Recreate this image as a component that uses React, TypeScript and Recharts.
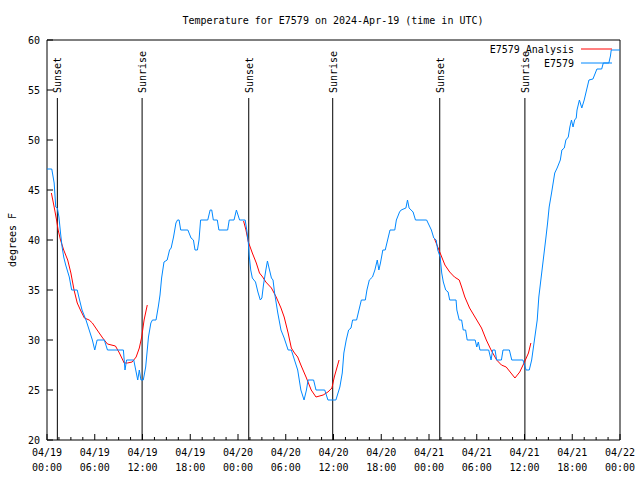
import React from 'react';
import {LineChart, Line, XAxis, YAxis, ReferenceLine, ReferenceArea} from 'recharts';

// observed station temps (hours since 04/19 00:00 UTC, deg F)
const obsHours = [
    0.0, 0.6, 0.9, 1.1, 1.3, 1.5, 1.7, 1.9, 2.1, 2.35, 2.8, 3.1, 3.8, 4.0, 4.4, 4.9, 5.3, 5.7, 6.0, 6.3,
    7.2, 7.6, 9.6, 9.8, 10.0, 10.9, 11.2, 11.4, 11.6, 11.8, 12.1, 12.4, 12.75, 13.05, 13.25, 13.7, 14.0, 14.2, 14.4, 14.7,
    15.1, 15.4, 15.6, 15.9, 16.2, 16.4, 16.6, 16.8, 17.7, 18.1, 18.4, 18.6, 18.9, 19.1, 19.3, 20.2, 20.5, 20.7, 20.9, 21.4,
    21.6, 22.7, 22.9, 23.5, 23.8, 24.0, 24.2, 24.9, 25.1, 25.3, 25.4, 25.6, 25.8, 26.2, 26.5, 26.8, 27.0, 27.2, 27.5, 27.7,
    27.9, 28.2, 28.4, 28.6, 29.0, 29.4, 29.8, 30.3, 30.7, 31.1, 31.5, 31.9, 32.3, 32.6, 32.8, 33.5, 33.8, 34.9, 35.3, 36.3,
    36.8, 37.1, 37.3, 37.6, 37.9, 38.2, 38.4, 38.9, 39.2, 39.5, 40.0, 40.2, 40.5, 40.9, 41.2, 41.5, 41.7, 41.9, 42.2, 42.5,
    42.8, 43.1, 43.7, 43.9, 44.3, 44.5, 45.1, 45.3, 45.5, 46.0, 46.3, 47.7, 48.0, 48.3, 48.6, 48.9, 49.1, 49.4, 49.6, 49.8,
    50.1, 50.4, 50.6, 51.4, 51.5, 51.8, 52.1, 52.3, 52.6, 52.8, 53.8, 54.0, 54.2, 54.4, 55.5, 55.8, 56.0, 56.3, 56.5, 57.1,
    57.3, 58.1, 58.4, 59.8, 60.2, 60.6, 60.9, 61.3, 61.6, 61.8, 62.1, 62.4, 62.7, 62.9, 63.1, 63.4, 63.6, 63.8, 64.1, 64.5,
    64.7, 65.0, 65.2, 65.5, 65.7, 65.9, 66.1, 66.3, 66.5, 66.6, 66.9, 67.2, 67.5, 67.8, 68.1, 68.6, 68.9, 69.1, 69.7, 69.9,
    70.6, 70.8, 70.9, 72.0,
];
const obsTemps = [
    47.1, 47.1, 45.7, 43.3, 43.2, 42.3, 40.7, 39.3, 38.3, 37.5, 36.3, 35, 35, 34.3, 33, 32, 31, 30, 29, 30,
    30, 29, 29, 27, 28, 28, 26.8, 26, 27, 26, 26, 27.3, 30.3, 31.7, 32, 32, 33.4, 34.5, 36.2, 37.8,
    38, 39, 39.2, 40.3, 41.7, 42, 42, 41, 41, 40.2, 40, 39, 39, 40, 42, 42, 43, 43, 42, 42,
    41, 41, 42, 42, 43, 42.5, 42, 42, 41, 39.7, 38.5, 37, 36.2, 35.8, 34.8, 34, 34.2, 35.5, 37, 37.9,
    37.2, 36.2, 36, 34.7, 32.7, 31, 30.2, 29, 29, 28, 27, 25, 24, 25, 26, 26, 25, 25, 24, 24,
    25.3, 26.7, 28.7, 30, 31, 31.2, 32, 32, 33, 34, 34, 35, 36, 36.3, 37, 38, 37, 37.7, 39, 39,
    40, 41, 41, 42, 42.8, 43, 43.2, 44, 43.2, 42.8, 42, 42, 41.5, 41, 40.2, 40, 39, 38.3, 36.7, 35.8,
    35, 34.8, 34, 34, 33, 32, 32, 31, 31, 30, 30, 29.3, 29.8, 29, 29, 28, 29, 29, 28, 28,
    29, 29, 28, 28, 27, 27, 28, 30.3, 32, 34.3, 36.3, 38.3, 40.3, 41.7, 43.3, 44.7, 45.7, 46.7, 47.2, 48,
    49, 49.2, 50, 50.3, 51.3, 52, 51.3, 52, 52.2, 53, 54, 53.2, 54, 55, 56, 56.1, 56.7, 57.1, 57.1, 57.7,
    57.7, 58.4, 59, 59,
];

// analysis series, null = gap during the day
const anaHours = [
    0.55, 0.9, 1.2, 1.4, 1.7, 2.1, 2.6, 3.0, 3.4, 3.8, 4.2, 4.7, 5.3, 5.7, 6.3, 7.0, 7.6, 8.6, 9.1, 9.7,
    10.1, 10.7, 11.2, 11.6, 11.9, 12.2, 12.6,
    18,
    24.7, 25.0, 25.3, 25.8, 26.3, 26.7, 27.1, 27.5, 28.2, 28.8, 29.4, 29.8, 30.3, 30.7, 31.1, 31.5, 31.9, 32.6, 33.2, 33.8,
    34.7, 35.3, 35.8, 36.1, 36.7,
    42,
    48.7, 49.1, 49.6, 50.0, 50.6, 51.2, 51.8, 52.1, 52.5, 53.1, 54.0, 54.6, 55.2, 55.8, 56.5, 57.1, 57.7, 58.2, 58.8, 59.4,
    60.0, 60.5, 60.8,
];
const anaTemps = [
    44.7, 43.3, 42, 41, 40, 39, 38, 36.7, 35, 33.7, 33, 32.2, 32, 31.7, 31, 30.2, 29.6, 29.4, 28.7, 27.7,
    27.7, 27.8, 28.3, 29.2, 30.3, 32, 33.5,
    null,
    41.9, 41, 39.8, 38.7, 37.7, 36.7, 36.3, 35.8, 35.2, 34.3, 33.2, 32.3, 30.7, 29.2, 28.7, 28.3, 27.5, 26.2, 25, 24.3,
    24.5, 24.8, 25.2, 26.3, 28,
    null,
    40.1, 39.3, 38.3, 37.5, 36.8, 36.3, 36, 35.3, 34.3, 33.2, 32, 31.2, 30, 29, 28, 27.5, 27.3, 26.8, 26.2, 26.8,
    27.8, 28.7, 29.7,
];

const sunHours = [1.3, 11.95, 25.35, 35.9, 49.35, 60.05];
const sunLabels = ['Sunset', 'Sunrise', 'Sunset', 'Sunrise', 'Sunset', 'Sunrise'];

const xTicks = [0, 6, 12, 18, 24, 30, 36, 42, 48, 54, 60, 66, 72];
const xTickDays = ['04/19', '04/19', '04/19', '04/19', '04/20', '04/20', '04/20', '04/20', '04/21', '04/21', '04/21', '04/21', '04/22'];
const xTickTimes = ['00:00', '06:00', '12:00', '18:00', '00:00', '06:00', '12:00', '18:00', '00:00', '06:00', '12:00', '18:00', '00:00'];
const yTicks = [20, 25, 30, 35, 40, 45, 50, 55, 60];

const FONT = '"DejaVu Sans Mono", "Liberation Mono", monospace';
const RED = '#ff0000';
const BLUE = '#0088ff';
const SUN_LINE_TOP = 54.2;

// major ticks every 6h plus minor ones every 1.5h
const allXTicks: number[] = [];
xTicks.forEach((t, i) => {
    allXTicks.push(t);
    if (i < xTicks.length - 1) {
        allXTicks.push(t + 1.5, t + 3, t + 4.5);
    }
});

const obsData = obsHours.map((h, i) => ({h, t: obsTemps[i]}));
const anaData = anaHours.map((h, i) => ({h, t: anaTemps[i]}));

const BottomTick = (props: any) => {
    const {x, y, payload} = props;
    const i = xTicks.indexOf(payload.value);
    const major = i >= 0;
    return (
        <g>
            <line x1={x} y1={y} x2={x} y2={y - (major ? 6 : 3)} stroke="#000"/>
            {major && <text x={x} y={y + 16} textAnchor="middle" fontSize={10} fontFamily={FONT} fill="#000">{xTickDays[i]}</text>}
            {major && <text x={x} y={y + 31} textAnchor="middle" fontSize={10} fontFamily={FONT} fill="#000">{xTickTimes[i]}</text>}
        </g>
    );
};

const TopTick = (props: any) => {
    const {x, y, payload} = props;
    const major = xTicks.indexOf(payload.value) >= 0;
    return <line x1={x} y1={y} x2={x} y2={y + (major ? 6 : 3)} stroke="#000"/>;
};

const LeftTick = (props: any) => {
    const {x, y, payload} = props;
    return (
        <g>
            <line x1={x} y1={y} x2={x + 6} y2={y} stroke="#000"/>
            <text x={x - 7} y={y + 4} textAnchor="end" fontSize={10} fontFamily={FONT} fill="#000">{payload.value}</text>
        </g>
    );
};

const RightTick = (props: any) => {
    const {x, y} = props;
    return <line x1={x} y1={y} x2={x - 6} y2={y} stroke="#000"/>;
};

const SunLabel = (props: any) => {
    const {viewBox, text} = props;
    const x = viewBox.x + 4;
    const y = viewBox.y - 5;
    return (
        <text x={x} y={y} transform={`rotate(-90 ${x} ${y})`} textAnchor="start" fontSize={10} fontFamily={FONT} fill="#000">
            {text}
        </text>
    );
};

export default function App() {
    return (
        <div style={{position: 'relative', width: 640, height: 480, background: '#fff'}}>
            <style>{'body{margin:0}'}</style>
            <LineChart width={640} height={480} margin={{top: 40, right: 20, left: 0, bottom: 0}}>
                <XAxis dataKey="h" type="number" domain={[0, 72]} ticks={allXTicks} interval={0}
                       height={40} tickSize={0} tickMargin={0} tickLine={false} axisLine={false}
                       tick={<BottomTick/>} allowDataOverflow/>
                <XAxis xAxisId="top" orientation="top" dataKey="h" type="number" domain={[0, 72]} ticks={allXTicks}
                       interval={0} height={0} tickSize={0} tickMargin={0} tickLine={false} axisLine={false}
                       tick={<TopTick/>} allowDataOverflow/>
                <YAxis type="number" domain={[20, 60]} ticks={yTicks} interval={0} width={47}
                       tickSize={0} tickMargin={0} tickLine={false} axisLine={false} tick={<LeftTick/>} allowDataOverflow/>
                <YAxis yAxisId="right" orientation="right" type="number" domain={[20, 60]} ticks={yTicks} interval={0}
                       width={0} tickSize={0} tickMargin={0} tickLine={false} axisLine={false} tick={<RightTick/>}
                       allowDataOverflow/>
                <ReferenceArea x1={0} x2={72} y1={20} y2={60} fill="none" stroke="#000" strokeWidth={1}/>
                {sunHours.map((h, i) => (
                    <ReferenceLine key={i} segment={[{x: h, y: 20}, {x: h, y: SUN_LINE_TOP}]} stroke="#000"
                                   strokeWidth={1} label={<SunLabel text={sunLabels[i]}/>}/>
                ))}
                <Line data={anaData} dataKey="t" stroke={RED} strokeWidth={1} dot={false}
                      isAnimationActive={false} connectNulls={false}/>
                <Line data={obsData} dataKey="t" stroke={BLUE} strokeWidth={1} dot={false}
                      isAnimationActive={false}/>
            </LineChart>
            <svg width={640} height={480} style={{position: 'absolute', left: 0, top: 0, pointerEvents: 'none'}}>
                <text x={333} y={24} textAnchor="middle" fontSize={10} fontFamily={FONT} fill="#000">
                    Temperature for E7579 on 2024-Apr-19 (time in UTC)
                </text>
                <text x={16} y={240} transform="rotate(-90 16 240)" textAnchor="middle" fontSize={10}
                      fontFamily={FONT} fill="#000">degrees F</text>
                <text x={574} y={53} textAnchor="end" fontSize={10} fontFamily={FONT} fill="#000">E7579 Analysis</text>
                <line x1={581} y1={49} x2={612} y2={49} stroke={RED}/>
                <text x={574} y={67} textAnchor="end" fontSize={10} fontFamily={FONT} fill="#000">E7579</text>
                <line x1={581} y1={63} x2={612} y2={63} stroke={BLUE}/>
            </svg>
        </div>
    );
}
